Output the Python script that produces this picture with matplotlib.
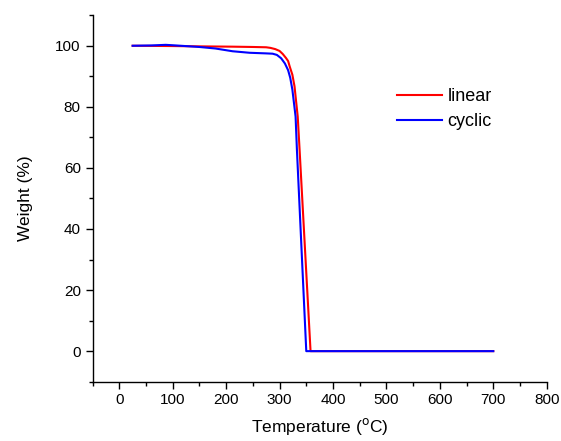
import matplotlib
matplotlib.use("Agg")
import matplotlib.pyplot as plt
from matplotlib.ticker import MultipleLocator

plt.rcParams['font.family'] = ['Liberation Sans', 'DejaVu Sans']

temp_linear = [25, 100, 150, 212, 250, 275, 283, 292, 300, 306, 312, 316, 319, 324, 328, 334, 337.5, 358, 700]
weight_linear = [100, 99.9, 99.8, 99.7, 99.6, 99.5, 99.3, 98.9, 98.3, 97.3, 96.0, 95.0, 93.2, 90.5, 86.7, 76.8, 65.9, 0, 0]

temp_cyclic = [25, 60, 87, 106, 150, 180, 212, 244, 275, 287, 295, 303, 310, 316, 320, 324, 330, 332.5, 350, 700]
weight_cyclic = [100, 100.1, 100.3, 100.1, 99.6, 99.1, 98.2, 97.7, 97.5, 97.4, 97.0, 95.9, 94.2, 92.0, 89.5, 85.6, 76.8, 65.9, 0, 0]

series_names = ["linear", "cyclic"]
series_colors = ["#ff0000", "#0000ff"]

fig = plt.figure(figsize=(5.61, 4.41), dpi=100)
ax = fig.add_axes([0.165, 0.1345, 0.8095, 0.831])

ax.plot(temp_linear, weight_linear, color=series_colors[0], lw=1.5, label=series_names[0])
ax.plot(temp_cyclic, weight_cyclic, color=series_colors[1], lw=1.5, label=series_names[1])

ax.set_xlim(-50, 800)
ax.set_ylim(-10, 110)
ax.set_xticks(range(0, 801, 100))
ax.set_yticks(range(0, 101, 20))
ax.xaxis.set_minor_locator(MultipleLocator(50))
ax.yaxis.set_minor_locator(MultipleLocator(10))
ax.spines['top'].set_visible(False)
ax.spines['right'].set_visible(False)
for s in ['left', 'bottom']:
    ax.spines[s].set_linewidth(1.0)
ax.tick_params(which='major', direction='out', length=5, width=1, labelsize=11, colors='black')
ax.tick_params(which='minor', direction='out', length=3, width=1)

ax.set_xlabel('Temperature ($^{\\rm o}$C)', fontsize=12.5, labelpad=6)
ax.set_ylabel('Weight (%)', fontsize=12.5, labelpad=16)

ax.legend(frameon=False, fontsize=13, handlelength=2.5, handletextpad=0.3,
          labelspacing=0.45, loc='upper left', bbox_to_anchor=(0.635, 0.845))

fig.savefig('out.png', dpi=100)
